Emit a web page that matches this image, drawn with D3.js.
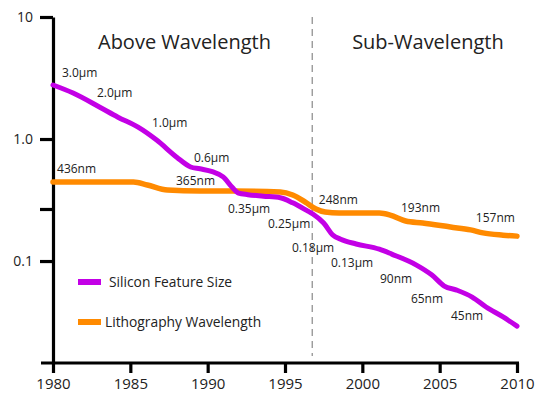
<!DOCTYPE html>
<html><head><meta charset="utf-8">
<script src="https://cdn.jsdelivr.net/npm/d3@7"></script>
<style>html,body{margin:0;padding:0;background:#fff}svg{display:block}text{font-family:"Open Sans",sans-serif;fill:#222}</style>
</head><body>
<script>
// Silicon feature size (µm)
const siliconYears = [1980,1981.3,1983,1984.2,1985.5,1986.7,1988,1988.9,1989.5,1990.3,1991,1991.6,1992,1992.6,1993.6,1994.7,1995.5,1996.4,1996.8,1997.5,1998.1,1998.6,1999.6,2001.1,2001.9,2003.5,2004.5,2005.3,2006.1,2007.1,2008,2009.1,2010];
const siliconValues = [2.77,2.38,1.83,1.51,1.25,0.98,0.71,0.59,0.57,0.54,0.49,0.40,0.36,0.35,0.34,0.33,0.30,0.26,0.243,0.205,0.163,0.151,0.138,0.125,0.114,0.0927,0.0768,0.0624,0.0578,0.0507,0.042,0.0348,0.0293];
// Lithography wavelength (µm)
const lithoYears = [1980,1985.2,1986.1,1987.4,1989.5,1991.6,1994.7,1995.5,1996.4,1997,1997.6,1998.5,2001.1,2001.8,2002.8,2003.9,2005.7,2007,2007.8,2009.1,2010];
const lithoValues = [0.444,0.444,0.42,0.382,0.375,0.375,0.368,0.348,0.299,0.267,0.252,0.247,0.247,0.238,0.213,0.205,0.19,0.18,0.17,0.163,0.16];

const siliconLabels = ["3.0µm","2.0µm","1.0µm","0.6µm","0.35µm","0.25µm","0.18µm","0.13µm","90nm","65nm","45nm"];
const siliconLabelYears = [1980.58,1982.84,1986.40,1989.11,1991.31,1993.90,1995.45,1997.97,2001.14,2003.14,2005.73];
const siliconLabelValues = [3.22,2.21,1.25,0.648,0.247,0.186,0.1186,0.0893,0.066,0.0453,0.0328];
const lithoLabels = ["436nm","365nm","248nm","193nm","157nm"];
const lithoLabelYears = [1980.26,1987.95,1997.19,2002.5,2007.34];
const lithoLabelValues = [0.526,0.42,0.293,0.252,0.209];

const xTicks = [1980,1985,1990,1995,2000,2005,2010];
const yTicks = [10,1,0.267,0.1];
const yTickLabels = ["10","1.0","","0.1"];
const boundaryYear = 1996.76;
const regionTitles = ["Above Wavelength","Sub-Wavelength"];
const regionCenters = [1988.5,2004.24];
const seriesNames = ["Silicon Feature Size","Lithography Wavelength"];

const W=544,H=394;
const purple="#c300e6", orange="#ff8a00";
const svg=d3.select("body").append("svg").attr("width",W).attr("height",H);
const x=d3.scaleLinear().domain([1980,2010]).range([53,517]);
const y=d3.scaleLog().domain([0.0146,10]).range([363,17]);

// dashed boundary
svg.append("line").attr("x1",x(boundaryYear)).attr("x2",x(boundaryYear))
  .attr("y1",y(10)).attr("y2",356).attr("stroke","#888").attr("stroke-width",1.2)
  .attr("stroke-dasharray","7,5");

// region titles
svg.selectAll(".rt").data(regionTitles).enter().append("text")
  .attr("x",(d,i)=>x(regionCenters[i])).attr("y",49).attr("text-anchor","middle")
  .attr("font-size",20).text(d=>d);

// axes
const xAxis=svg.append("g").attr("transform",`translate(0,${y.range()[0]})`)
  .call(d3.axisBottom(x).tickValues(xTicks).tickFormat(d3.format("d")).tickSize(10).tickSizeOuter(0));
xAxis.select(".domain").attr("d",`M41,0H519`);
const yAxis=svg.append("g").attr("transform",`translate(${x(1980)},0)`)
  .call(d3.axisLeft(y).tickValues(yTicks).tickFormat((d,i)=>yTickLabels[i]).tickSize(13).tickSizeOuter(0));
[xAxis,yAxis].forEach(g=>{
  g.select(".domain").attr("stroke","#000").attr("stroke-width",3.2);
  g.selectAll(".tick line").attr("stroke","#000").attr("stroke-width",3.2);
  g.selectAll(".tick text").attr("fill","#222").attr("font-family","Open Sans, sans-serif");
});
xAxis.selectAll(".tick text").attr("font-size",15).attr("dy",0).attr("y",26);
yAxis.selectAll(".tick text").attr("font-size",14).attr("x",-20);

// lines
const line=d3.line().x(d=>x(d[0])).y(d=>y(d[1])).curve(d3.curveMonotoneX);
svg.append("path").datum(d3.zip(lithoYears,lithoValues)).attr("d",line)
  .attr("fill","none").attr("stroke",orange).attr("stroke-width",5.5).attr("stroke-linejoin","round").attr("stroke-linecap","round");
svg.append("path").datum(d3.zip(siliconYears,siliconValues)).attr("d",line)
  .attr("fill","none").attr("stroke",purple).attr("stroke-width",5).attr("stroke-linejoin","round").attr("stroke-linecap","round");

// annotations
svg.selectAll(".sl").data(siliconLabels).enter().append("text")
  .attr("x",(d,i)=>x(siliconLabelYears[i])).attr("y",(d,i)=>y(siliconLabelValues[i]))
  .attr("font-size",12).text(d=>d);
svg.selectAll(".ll").data(lithoLabels).enter().append("text")
  .attr("x",(d,i)=>x(lithoLabelYears[i])).attr("y",(d,i)=>y(lithoLabelValues[i]))
  .attr("font-size",12).text(d=>d);

// legend
const legY=[282,322], legTx=[109,105];
const lg=svg.selectAll(".lg").data(seriesNames).enter().append("g");
lg.append("rect").attr("x",78).attr("y",(d,i)=>legY[i]-3).attr("width",23).attr("height",6)
  .attr("fill",(d,i)=>i?orange:purple);
lg.append("text").attr("x",(d,i)=>legTx[i]).attr("y",(d,i)=>legY[i]+4.5).attr("font-size",13.8).text(d=>d);
</script>
</body></html>
